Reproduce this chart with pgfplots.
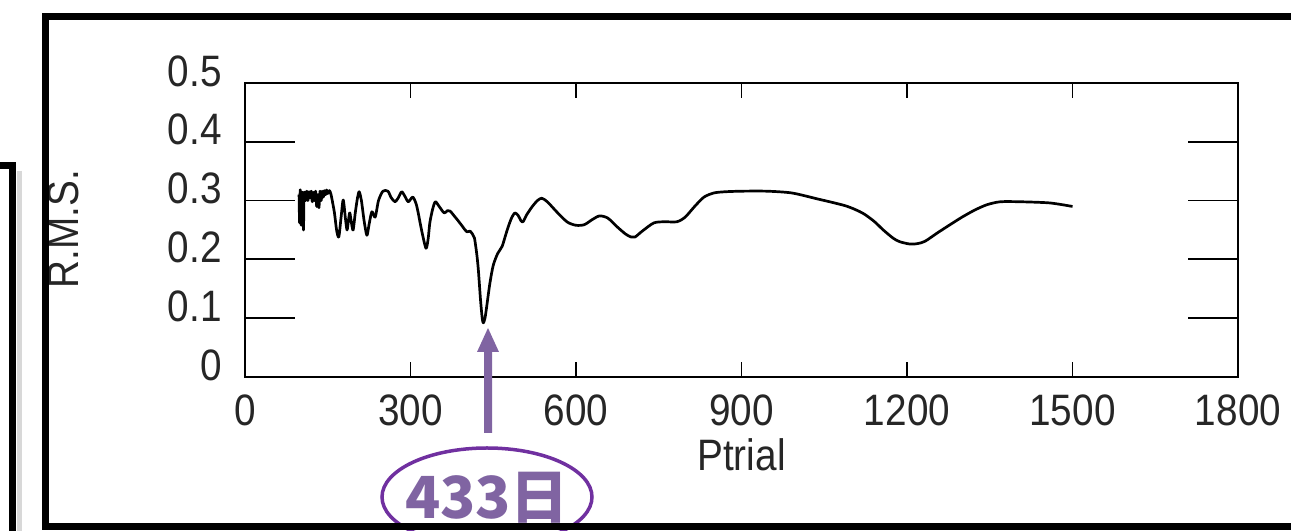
\documentclass[border=0pt]{standalone}
\usepackage{fontspec}
\setmainfont{Liberation Sans}
\newfontfamily\tickfont{Liberation Sans}[FakeStretch=0.88]
\newfontfamily\cjk{Noto Sans CJK SC}
\usepackage{pgfplots}
\pgfplotsset{compat=1.18}
\definecolor{arrowpurple}{HTML}{8064A2}
\definecolor{ringpurple}{HTML}{7030A0}

\pgfplotsset{
  rmsframe/.style={
    at={(245bp,154bp)}, anchor=south west,
    width=993bp, height=294bp, scale only axis,
    xmin=0, xmax=1800, ymin=0, ymax=0.5,
    axis line style={line width=2.5bp},
    tick style={line width=1.8bp, black},
  },
}

\begin{document}
\begin{tikzpicture}[x=1bp,y=1bp]
\useasboundingbox (0,0) rectangle (1291,531);

% main axis: x ticks, labels, curve
\begin{axis}[rmsframe,
    xtick={0,300,...,1800},
    ytick={0,0.1,0.2,0.3,0.4,0.5},
    major tick length=15bp,
    /pgf/number format/assume math mode=true,
    /pgf/number format/1000 sep={},
    ticklabel style={font=\tickfont\fontsize{44bp}{48bp}\selectfont, text=black!85},
    yticklabel style={anchor=east, inner sep=0pt, xshift=-23bp, yshift=12bp},
    xticklabel style={anchor=north, inner sep=0pt, yshift=-18bp},
    xlabel={Ptrial},
    ylabel={R.M.S.},
    label style={font=\tickfont\fontsize{44bp}{48bp}\selectfont, text=black!85},
    xlabel style={at={(axis description cs:0.5,-0.265)}, anchor=center, inner sep=0pt},
    ylabel style={at={(axis description cs:-0.1833,0.503)}, anchor=center, inner sep=0pt},
  ]
\addplot[black, line width=2.7bp, line join=round, smooth, tension=0.45] coordinates {
 (98,0.310) (99,0.262) (100,0.318) (101,0.300) (102,0.258) (103,0.312) (105,0.305)
 (106,0.250) (107,0.310) (109,0.312) (110,0.300) (112,0.316) (114,0.300) (116,0.315)
 (118,0.305) (120,0.316) (122,0.298) (124,0.314) (126,0.300) (128,0.316) (130,0.290)
 (132,0.310) (134,0.288) (136,0.316) (138,0.300) (140,0.316) (142,0.306) (144,0.317)
 (146,0.310) (148,0.318) (150,0.312) (153,0.317) (156,0.310)
 (162,0.280) (166,0.250) (170,0.238) (174,0.270) (178,0.301) (182,0.270) (185,0.250)
 (188,0.270) (190,0.279) (193,0.262) (196,0.250) (200,0.280) (204,0.305) (207,0.315)
 (211,0.300) (216,0.265) (221,0.241) (225,0.260) (230,0.281) (236,0.272) (242,0.300)
 (250,0.316) (259,0.316) (265,0.305) (272,0.298) (278,0.305) (284,0.315) (290,0.307)
 (296,0.298) (304,0.306) (310,0.295) (314,0.279) (320,0.250) (328,0.219) (332,0.235)
 (335,0.262) (340,0.285) (345,0.298) (352,0.290) (361,0.279) (367,0.283) (372,0.282)
 (380,0.273) (387,0.265) (395,0.255) (402,0.247) (408,0.248) (413,0.242) (416,0.236)
 (420,0.210) (423,0.182) (427,0.130) (430,0.100) (432,0.092) (435,0.100) (438,0.119)
 (444,0.160) (450,0.190) (458,0.210) (466,0.222) (472,0.240) (477,0.255) (483,0.270)
 (489,0.279) (495,0.275) (500,0.266) (504,0.264) (510,0.275) (520,0.289) (530,0.300)
 (538,0.304) (548,0.298) (559,0.287) (571,0.275) (585,0.263) (600,0.258) (615,0.259)
 (630,0.268) (643,0.274) (658,0.270) (675,0.255) (690,0.243) (700,0.238) (707,0.238)
 (720,0.248) (741,0.262) (760,0.264) (783,0.264) (798,0.272) (815,0.290) (832,0.306)
 (850,0.313) (870,0.315) (900,0.316) (946,0.316) (991,0.313) (1037,0.303) (1089,0.291)
 (1119,0.279) (1140,0.265) (1157,0.250) (1175,0.236) (1187,0.230) (1206,0.226)
 (1220,0.227) (1233,0.231) (1255,0.245) (1278,0.259) (1300,0.272) (1323,0.284)
 (1345,0.293) (1369,0.298) (1406,0.298) (1459,0.296) (1500,0.290)
};
\end{axis}

% long inward y ticks on both sides
\begin{axis}[rmsframe,
    axis line style={draw=none},
    xtick=\empty,
    ytick={0.1,0.2,0.3,0.4},
    yticklabels={},
    major tick length=50bp,
  ]
\end{axis}

% annotation
\fill[arrowpurple] (484,98) -- (484,179) -- (477,179) -- (488,203) -- (499,179) -- (492,179) -- (492,98) -- cycle;
\draw[ringpurple, line width=3.5bp] (487,34) ellipse [x radius=105, y radius=49];
\node[text=arrowpurple, inner sep=0pt, font=\cjk\bfseries\fontsize{58bp}{62bp}\selectfont] at (487,33) {433日};

% slide frames
\draw[black!30, line width=5bp, opacity=0.5] (19,360) -- (19,-5);
\draw[line width=7bp] (-5,365) -- (12,365) -- (12,-5);
\draw[line width=7bp] (1300,514) -- (45,514) -- (45,4) -- (1300,4);
\end{tikzpicture}
\end{document}
